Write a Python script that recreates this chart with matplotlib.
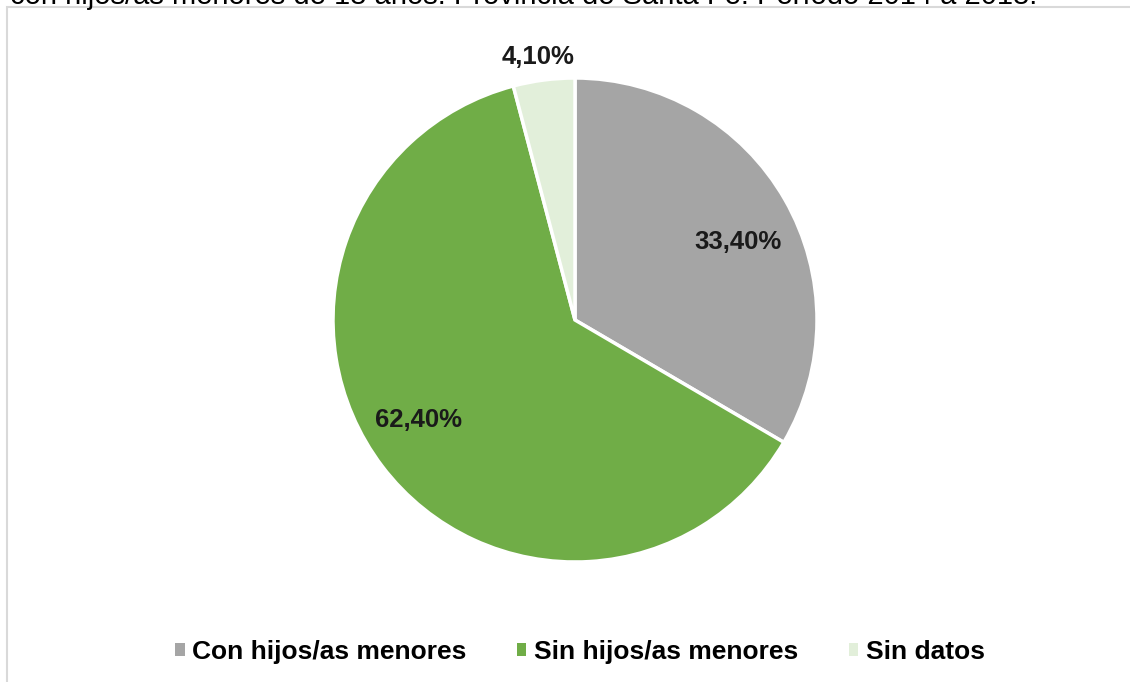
import matplotlib.pyplot as plt
from matplotlib.patches import Rectangle

labels = ['Con hijos/as menores', 'Sin hijos/as menores', 'Sin datos']
values = [33.4, 62.4, 4.1]
pct_text = ['33,40%', '62,40%', '4,10%']
colors = ['#A5A5A5', '#70AD47', '#E2EFDA']

plt.rcParams['font.family'] = ['Liberation Sans', 'DejaVu Sans']

fig = plt.figure(figsize=(11.3, 6.82), dpi=100)

# chart frame (light gray border, cut at right/bottom)
fig.patches.append(Rectangle((7 / 1130, -0.01), 1.05, 1 - 7 / 682 + 0.01,
                             transform=fig.transFigure, fill=False,
                             edgecolor='#D9D9D9', linewidth=1.5))

# title line, only its lower part is visible
fig.text(10 / 1130, 1 + 4 / 682, 'con hijos/as menores de 18 años. Provincia de Santa Fe. Período 2014 a 2018.',
         fontsize=21, va='center', ha='left', color='black')

# pie: center (575, 320), radius 242 px
r = 242
ax = fig.add_axes([(575 - r) / 1130, (682 - 320 - r) / 682, 2 * r / 1130, 2 * r / 682])
wedges, _ = ax.pie(values, colors=colors, startangle=90, counterclock=False,
                   wedgeprops=dict(edgecolor='white', linewidth=2.5))
ax.set_aspect('equal')
ax.set_xlim(-1, 1)
ax.set_ylim(-1, 1)
ax.axis('off')

label_pos = [(738, 242), (418, 420), (538, 57)]
for txt, (px, py) in zip(pct_text, label_pos):
    fig.text(px / 1130, 1 - py / 682, txt, fontsize=18.5, fontweight='bold',
             ha='center', va='center', color='#1a1a1a')

leg = fig.legend(wedges, labels, loc='center', bbox_to_anchor=(580 / 1130, 1 - 652 / 682),
                 ncol=3, frameon=False, prop=dict(size=19, weight='bold'),
                 handlelength=0.35, handleheight=0.35, handletextpad=0.3, columnspacing=1.9)
for h in leg.legend_handles:
    h.set_edgecolor('none')

fig.savefig('out.png', dpi=100)
